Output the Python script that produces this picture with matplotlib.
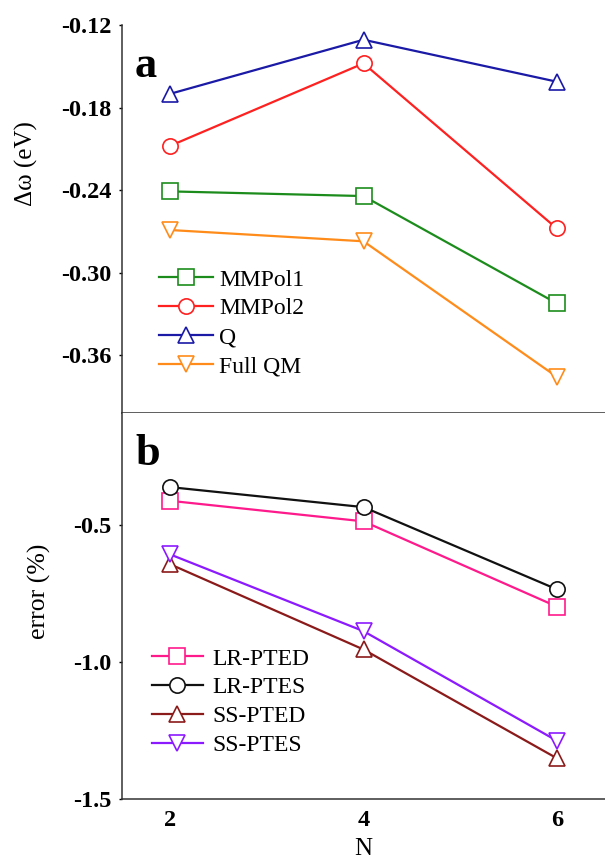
import matplotlib
matplotlib.use("Agg")
import matplotlib.pyplot as plt

plt.rcParams['font.family'] = ['Liberation Serif', 'DejaVu Serif']

n_values = [2, 4, 6]

# panel a: excitation shift (eV)
mmpol1 = [-0.241, -0.2444, -0.3224]
mmpol2 = [-0.2078, -0.1479, -0.2679]
q_model = [-0.170, -0.1307, -0.1612]
full_qm = [-0.2691, -0.2773, -0.3758]

# panel b: error (%)
lr_pted = [-0.411, -0.486, -0.797]
lr_ptes = [-0.361, -0.434, -0.734]
ss_pted = [-0.643, -0.954, -1.351]
ss_ptes = [-0.607, -0.887, -1.287]

top_ticks = [-0.12, -0.18, -0.24, -0.30, -0.36]
bottom_ticks = [-0.5, -1.0, -1.5]

fig = plt.figure(figsize=(6.05, 8.63), dpi=100)
ax_a = fig.add_axes([0.2017, 0.5214, 0.7983, 0.4496])
ax_b = fig.add_axes([0.2017, 0.0742, 0.7983, 0.4473])

series_a = [
    (mmpol1, 'MMPol1', '#1c8c1c', 's'),
    (mmpol2, 'MMPol2', '#ff2020', 'o'),
    (q_model, 'Q', '#1a1aa6', '^'),
    (full_qm, 'Full QM', '#ff8c1a', 'v'),
]
series_b = [
    (lr_pted, 'LR-PTED', '#ff1a8c', 's'),
    (lr_ptes, 'LR-PTES', '#111111', 'o'),
    (ss_pted, 'SS-PTED', '#8b1a1a', '^'),
    (ss_ptes, 'SS-PTES', '#8c1aff', 'v'),
]

for ax, series in ((ax_a, series_a), (ax_b, series_b)):
    for vals, name, col, mk in series:
        ax.plot(n_values, vals, color=col, lw=1.6, marker=mk, ms=11,
                mfc='white', mec=col, mew=1.2, label=name)
    ax.spines['right'].set_visible(False)
    ax.spines['top'].set_visible(False)
    for s in ('left', 'bottom'):
        ax.spines[s].set_linewidth(1.1)
        ax.spines[s].set_color('#333333')
    ax.set_xlim(1.5, 6.5)
    ax.tick_params(axis='y', direction='out', length=2.5, width=1, pad=5,
                   labelsize=17.5)
    ax.tick_params(axis='x', length=0, pad=8, labelsize=17.5)

ax_a.set_ylim(-0.4022, -0.12)
ax_a.set_yticks(top_ticks)
ax_a.set_yticklabels([f"{t:.2f}" for t in top_ticks], fontweight='bold')
ax_a.set_xticks([])
ax_a.set_ylabel('Δω (eV)', fontsize=18)
ax_a.yaxis.set_label_coords(-0.175, 0.644)

ax_b.set_ylim(-1.5, -0.09)
ax_b.set_yticks(bottom_ticks)
ax_b.set_yticklabels([f"{t:.1f}" for t in bottom_ticks], fontweight='bold')
ax_b.set_xticks(n_values)
ax_b.set_xticklabels([str(n) for n in n_values], fontweight='bold')
ax_b.set_ylabel('error (%)', fontsize=18.5)
ax_b.yaxis.set_label_coords(-0.147, 0.539)
ax_b.set_xlabel('N', fontsize=18, labelpad=5)

leg_kw = dict(frameon=False, fontsize=17, labelspacing=0.31, borderpad=0,
              borderaxespad=0, loc='upper left')
ax_a.legend(bbox_to_anchor=(0.0766, 0.371), handlelength=2.29,
            handletextpad=0.25, **leg_kw)
ax_b.legend(bbox_to_anchor=(0.062, 0.391), handlelength=2.16,
            handletextpad=0.38, **leg_kw)

fig.text(135 / 605, 1 - 77 / 863, 'a', fontsize=32, fontweight='bold',
         va='baseline', ha='left')
fig.text(135 / 605, 1 - 465 / 863, 'b', fontsize=32, fontweight='bold',
         va='baseline', ha='left')

fig.savefig('out.png', dpi=100)
